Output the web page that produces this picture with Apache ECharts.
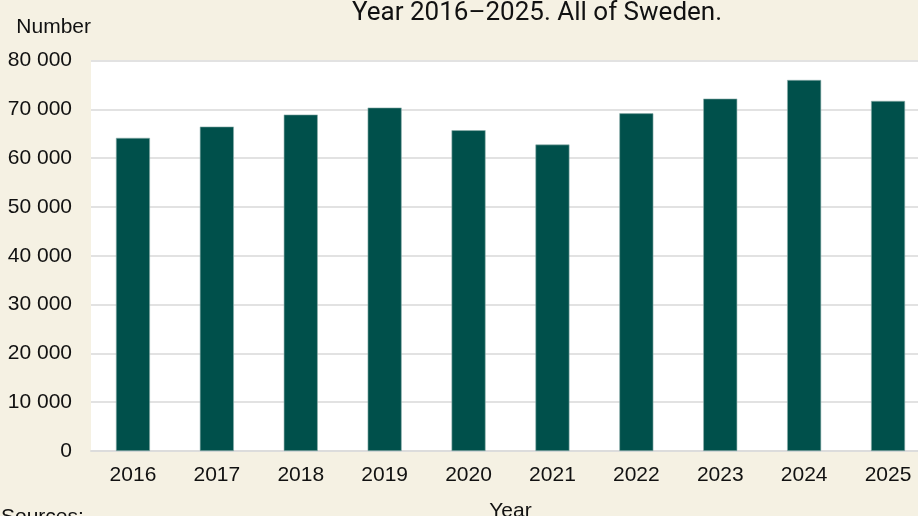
<!DOCTYPE html>
<html style="height: 100%">
   <head>
       <meta charset="utf-8">
   </head>
   <body style="height: 100%; margin: 0; background: #f5f1e3">
       <div id="container" style="width: 918px; height: 516px"></div>
       <script type="text/javascript" src="https://cdn.jsdelivr.net/npm/echarts@6/dist/echarts.min.js"></script>
       <script type="text/javascript">
var years = ['2016', '2017', '2018', '2019', '2020', '2021', '2022', '2023', '2024', '2025'];
var counts = [64150, 66460, 68920, 70350, 65710, 62780, 69180, 72190, 76010, 71720];
var yTicks = [0, 10000, 20000, 30000, 40000, 50000, 60000, 70000, 80000];

var labelFont = '"Liberation Sans", Arial, sans-serif';

var dom = document.getElementById("container");
var myChart = echarts.init(dom);
var option = {
    backgroundColor: '#f5f1e3',
    animation: false,
    title: {
        text: 'Year 2016\u20132025. All of Sweden.',
        left: 352,
        top: 0,
        padding: 0,
        textStyle: {
            fontFamily: 'Roboto, sans-serif',
            fontWeight: 'normal',
            fontSize: 26,
            color: '#111'
        }
    },
    graphic: [{
        type: 'text',
        left: 1,
        top: 507,
        style: {
            text: 'Sources:',
            font: '21px ' + labelFont,
            fill: '#111'
        }
    }],
    grid: {
        left: 91,
        right: -12,
        top: 60.5,
        bottom: 65,
        outerBoundsMode: 'none',
        containLabel: false,
        show: true,
        backgroundColor: '#ffffff',
        borderWidth: 0
    },
    xAxis: {
        type: 'category',
        data: years,
        name: 'Year',
        nameLocation: 'middle',
        nameGap: 50,
        nameTextStyle: { fontFamily: labelFont, fontSize: 21, color: '#111' },
        axisTick: { show: false },
        axisLine: { lineStyle: { color: '#dcdcdc', width: 2 } },
        axisLabel: { fontFamily: labelFont, fontSize: 21, color: '#111', margin: 14 }
    },
    yAxis: {
        type: 'value',
        min: yTicks[0],
        max: yTicks[yTicks.length - 1],
        interval: 10000,
        name: 'Number',
        nameLocation: 'end',
        nameGap: 23,
        nameTextStyle: { fontFamily: labelFont, fontSize: 21, color: '#111', align: 'right', padding: [0, 0, 0, 0] },
        axisLine: { show: false },
        axisTick: { show: false },
        splitLine: { lineStyle: { color: '#e2e2e2', width: 2 } },
        axisLabel: {
            fontFamily: labelFont,
            fontSize: 21,
            color: '#111',
            margin: 19,
            formatter: function (v) {
                return String(v).replace(/\B(?=(\d{3})+(?!\d))/g, ' ');
            }
        }
    },
    series: [{
        type: 'bar',
        data: counts,
        barWidth: 34,
        itemStyle: {
            color: '#00504b',
            borderColor: '#8fb0ac',
            borderWidth: 0.6
        }
    }]
};
myChart.setOption(option);
       </script>
   </body>
</html>
